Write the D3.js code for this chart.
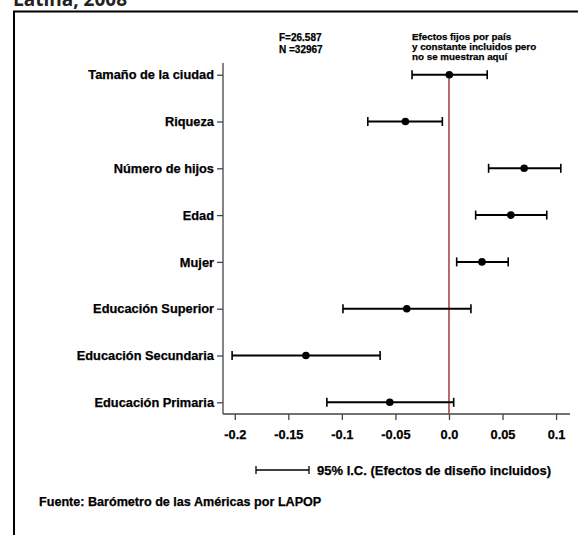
<!DOCTYPE html>
<html>
<head>
<meta charset="utf-8">
<script src="https://cdn.jsdelivr.net/npm/d3@7"></script>
<style>
  body { margin: 0; background: #fff; }
  svg text { font-family: "Liberation Sans", Arial, sans-serif; font-weight: bold; fill: #000; stroke: #000; stroke-width: 0.25px; }
</style>
</head>
<body>
<div id="chart"></div>
<script>
// coefficient plot data
const categories = ["Tamaño de la ciudad", "Riqueza", "Número de hijos", "Edad", "Mujer",
    "Educación Superior", "Educación Secundaria", "Educación Primaria"]
const estimates = [0.0003, -0.0407, 0.0702, 0.0578, 0.0308, -0.0394, -0.1336, -0.0553]
const lower = [-0.0345, -0.0758, 0.037, 0.0249, 0.0072, -0.099, -0.2025, -0.114]
const upper = [0.0357, -0.0062, 0.1044, 0.0913, 0.0553, 0.0205, -0.0643, 0.0044]
const tickValues = [-0.2, -0.15, -0.1, -0.05, 0, 0.05, 0.1]
const tickLabels = ["-0.2", "-0.15", "-0.1", "-0.05", "0.0", "0.05", "0.1"]

const width = 578, height = 535

const svg = d3.select("#chart")
    .append("svg")
    .attr("width", width)
    .attr("height", height)

const x = d3.scaleLinear().domain([-0.211, 0.113]).range([223, 570])
const y = d3.scalePoint().domain(categories).range([63, 414]).padding(0.25)

// cut-off title and frame
svg.append("text")
    .attr("x", 13).attr("y", 6)
    .style("font-family", "'Open Sans', sans-serif")
    .style("font-size", "19px")
    .style("fill", "#222")
    .style("stroke", "none")
    .text("Latina, 2008")

svg.append("line")
    .attr("x1", 13).attr("x2", width).attr("y1", 11.5).attr("y2", 11.5)
    .attr("stroke", "#000").attr("stroke-width", 2)
svg.append("line")
    .attr("x1", 14).attr("x2", 14).attr("y1", 11).attr("y2", height)
    .attr("stroke", "#000").attr("stroke-width", 2)

// axes
const yAxis = d3.axisLeft(y).tickSize(6).tickPadding(3)
svg.append("g")
    .attr("class", "axis y-axis")
    .attr("transform", "translate(" + x.range()[0] + ",0)")
    .call(yAxis)
    .call(g => g.select(".domain").attr("d", "M0," + y.range()[0] + "V" + y.range()[1]))
    .call(g => g.selectAll("text").style("font-size", "12.8px"))

const xAxis = d3.axisBottom(x).tickValues(tickValues)
    .tickFormat((d, i) => tickLabels[i]).tickSize(6).tickPadding(10)
svg.append("g")
    .attr("class", "axis x-axis")
    .attr("transform", "translate(0," + y.range()[1] + ")")
    .call(xAxis)
    .call(g => g.select(".domain").attr("d", "M" + x.range()[0] + ",0H" + x.range()[1]))
    .call(g => g.selectAll("text").style("font-size", "12.8px"))

svg.selectAll(".axis path, .axis line").attr("stroke", "#444").attr("stroke-width", 1.3)

// zero line
svg.append("line")
    .attr("x1", x(0)).attr("x2", x(0))
    .attr("y1", y.range()[0] + 9).attr("y2", y.range()[1])
    .attr("stroke", "#a84848").attr("stroke-width", 1.6)

// error bars
const rows = categories.map((c, i) => ({ cat: c, est: estimates[i], lo: lower[i], hi: upper[i] }))
const bars = svg.append("g").selectAll("g").data(rows).join("g")
bars.append("line")
    .attr("x1", d => x(d.lo)).attr("x2", d => x(d.hi))
    .attr("y1", d => y(d.cat)).attr("y2", d => y(d.cat))
    .attr("stroke", "#000").attr("stroke-width", 2)
bars.selectAll(".cap").data(d => [[d.lo, d.cat], [d.hi, d.cat]]).join("line")
    .attr("class", "cap")
    .attr("x1", d => x(d[0])).attr("x2", d => x(d[0]))
    .attr("y1", d => y(d[1]) - 4.5).attr("y2", d => y(d[1]) + 4.5)
    .attr("stroke", "#000").attr("stroke-width", 1.6)
bars.append("circle")
    .attr("cx", d => x(d.est)).attr("cy", d => y(d.cat))
    .attr("r", 3.8).attr("fill", "#000")

// annotations
svg.append("text").attr("x", 279).attr("y", 41).style("font-size", "10px").text("F=26.587")
svg.append("text").attr("x", 279).attr("y", 52.5).style("font-size", "10px").text("N =32967")
const note = ["Efectos fijos por país", "y constante incluidos pero", "no se muestran aquí"]
svg.append("g").selectAll("text").data(note).join("text")
    .attr("x", 412).attr("y", (d, i) => 39.5 + i * 10)
    .style("font-size", "9.8px")
    .text(d => d)

// legend
const lg = svg.append("g").attr("transform", "translate(256,470)")
lg.append("line").attr("x1", 0).attr("x2", 53).attr("stroke", "#000").attr("stroke-width", 1.5)
lg.selectAll(".lcap").data([0, 53]).join("line")
    .attr("x1", d => d).attr("x2", d => d).attr("y1", -4).attr("y2", 4)
    .attr("stroke", "#000").attr("stroke-width", 1.3)
lg.append("text").attr("x", 61).attr("y", 4.5).style("font-size", "13px")
    .text("95% I.C. (Efectos de diseño incluidos)")

svg.append("text").attr("x", 39).attr("y", 506).style("font-size", "12.6px")
    .text("Fuente: Barómetro de las Américas por LAPOP")
</script>
</body>
</html>
